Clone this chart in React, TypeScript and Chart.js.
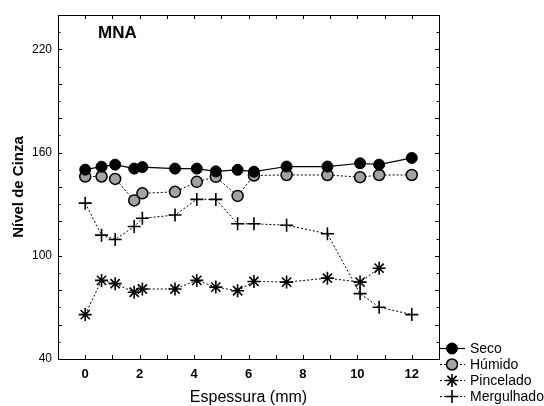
import React, { useEffect, useRef } from "react";
import { Chart, registerables } from "chart.js";
import { drawPoint } from "chart.js/helpers";

Chart.register(...registerables);

const espessura = [0, 0.6, 1.1, 1.8, 2.1, 3.3, 4.1, 4.8, 5.6, 6.2, 7.4, 8.9, 10.1, 10.8, 12];
const seco = [150.1, 151.8, 153, 150.7, 151.6, 150.7, 150.7, 149.1, 150, 148.9, 151.9, 151.9, 153.8, 153, 156.9];
const humido = [146.1, 146.1, 144.7, 132.2, 136.3, 137.2, 143, 145.9, 134.8, 146.7, 147, 147, 145.7, 147, 147];
const pincelado = [65.8, 85.7, 83.8, 78.8, 80.7, 80.7, 85.7, 81.8, 79.7, 85.1, 84.7, 87, 84.7, 92.8];
const mergulhado = [130.6, 112, 109.5, 117, 121.8, 123.7, 132.8, 132.8, 118.6, 118.6, 117.8, 112.8, 78, 70.1, 65.8];

const xTicks = [0, 2, 4, 6, 8, 10, 12];
const yTicks = [40, 100, 160, 220];
const seriesNames = ["Seco", "Húmido", "Pincelado", "Mergulhado"];

const FONT = "'Liberation Sans', Arial, Helvetica, sans-serif";

const toPts = (vals: number[]) => vals.map((y, i) => ({ x: espessura[i], y }));

const framePlugin = {
  id: "frame",
  afterDraw(chart: any) {
    const { ctx, chartArea: a, scales } = chart;
    const xs = scales.x;
    const ys = scales.y;
    ctx.save();
    ctx.strokeStyle = "#000";
    ctx.lineWidth = 1;
    ctx.strokeRect(Math.round(a.left) + 0.5, Math.round(a.top) + 0.5, Math.round(a.right - a.left), Math.round(a.bottom - a.top));
    ctx.beginPath();
    for (let v = -1; v <= 13; v += 1) {
      const px = Math.round(xs.getPixelForValue(v)) + 0.5;
      ctx.moveTo(px, a.bottom);
      ctx.lineTo(px, a.bottom - 4);
      ctx.moveTo(px, a.top);
      ctx.lineTo(px, a.top + 4);
    }
    for (let v = 40; v <= 240; v += 10) {
      const py = Math.round(ys.getPixelForValue(v)) + 0.5;
      const len = v % 20 === 0 ? 4 : 2.5;
      ctx.moveTo(a.left, py);
      ctx.lineTo(a.left + len, py);
      ctx.moveTo(a.right, py);
      ctx.lineTo(a.right - len, py);
    }
    ctx.stroke();

    ctx.fillStyle = "#000";
    ctx.font = `bold 17px ${FONT}`;
    ctx.textAlign = "left";
    ctx.textBaseline = "middle";
    ctx.fillText("MNA", a.left + 40, a.top + 18);

    // legend
    const rowY = [348.5, 364.5, 380.5, 396.5];
    chart.data.datasets.forEach((ds: any, i: number) => {
      const y = rowY[i];
      ctx.save();
      ctx.strokeStyle = "#000";
      ctx.lineWidth = ds.borderWidth;
      ctx.setLineDash(ds.borderDash || []);
      ctx.beginPath();
      ctx.moveTo(440, y);
      ctx.lineTo(465, y);
      ctx.stroke();
      ctx.setLineDash([]);
      ctx.fillStyle = ds.pointBackgroundColor;
      ctx.strokeStyle = "#000";
      ctx.lineWidth = ds.pointBorderWidth;
      drawPoint(ctx, {
        pointStyle: ds.pointStyle,
        radius: ds.pointRadius,
        borderWidth: ds.pointBorderWidth,
        rotation: 0,
      } as any, 452, y);
      ctx.restore();
      ctx.fillStyle = "#000";
      ctx.font = `14px ${FONT}`;
      ctx.textAlign = "left";
      ctx.textBaseline = "middle";
      ctx.fillText(ds.label, 470, y + 0.5);
    });
    ctx.restore();
  },
};

export default function App() {
  const ref = useRef<HTMLCanvasElement | null>(null);
  useEffect(() => {
    if (!ref.current) return;
    const chart = new Chart(ref.current, {
      type: "line",
      data: {
        datasets: [
          {
            label: seriesNames[0],
            data: toPts(seco),
            borderColor: "#000",
            borderWidth: 1.2,
            pointStyle: "circle",
            pointRadius: 5.5,
            pointBorderWidth: 1,
            pointBackgroundColor: "#000",
            pointBorderColor: "#000",
          },
          {
            label: seriesNames[1],
            data: toPts(humido),
            borderColor: "#000",
            borderWidth: 1,
            borderDash: [2, 2],
            pointStyle: "circle",
            pointRadius: 5.5,
            pointBorderWidth: 1.5,
            pointBackgroundColor: "#a3a3a3",
            pointBorderColor: "#000",
          },
          {
            label: seriesNames[2],
            data: toPts(pincelado),
            borderColor: "#000",
            borderWidth: 1,
            borderDash: [2, 2],
            pointStyle: "star",
            pointRadius: 6.5,
            pointBorderWidth: 1.6,
            pointBackgroundColor: "#000",
            pointBorderColor: "#000",
          },
          {
            label: seriesNames[3],
            data: toPts(mergulhado),
            borderColor: "#000",
            borderWidth: 1,
            borderDash: [2, 2],
            pointStyle: "cross",
            pointRadius: 6.5,
            pointBorderWidth: 1.6,
            pointBackgroundColor: "#000",
            pointBorderColor: "#000",
          },
        ] as any,
      },
      options: {
        animation: false,
        responsive: false,
        layout: { padding: { top: 15, right: 105, left: 0, bottom: 0 } },
        plugins: { legend: { display: false }, tooltip: { enabled: false } },
        elements: { line: { tension: 0 } },
        scales: {
          x: {
            type: "linear",
            min: -1,
            max: 13,
            grid: { display: false, drawTicks: false },
            border: { display: false },
            afterBuildTicks: (s: any) => {
              s.ticks = xTicks.map((v) => ({ value: v }));
            },
            afterFit: (s: any) => {
              s.height = 47;
            },
            ticks: {
              color: "#000",
              padding: 8,
              font: { family: FONT, size: 13, weight: "bold" },
              maxRotation: 0,
            },
            title: {
              display: true,
              text: "Espessura (mm)",
              color: "#000",
              font: { family: FONT, size: 16, lineHeight: 1 },
              padding: { top: 0, bottom: 0 },
            },
          },
          y: {
            type: "linear",
            min: 40,
            max: 240,
            grid: { display: false, drawTicks: false },
            border: { display: false },
            afterBuildTicks: (s: any) => {
              s.ticks = yTicks.map((v) => ({ value: v }));
            },
            afterFit: (s: any) => {
              s.width = 58;
            },
            ticks: {
              color: "#000",
              padding: 6,
              font: { family: FONT, size: 12 },
            },
            title: {
              display: true,
              text: "Nível de Cinza",
              color: "#000",
              font: { family: FONT, size: 15, weight: "bold", lineHeight: 1 },
              padding: { top: 11, bottom: 0 },
            },
          },
        },
      } as any,
      plugins: [framePlugin],
    });
    return () => chart.destroy();
  }, []);
  return (
    <div style={{ position: "absolute", left: 0, top: 0, width: 544, height: 406, background: "#fff" }}>
      <canvas ref={ref} width={544} height={406} style={{ display: "block" }} />
    </div>
  );
}
